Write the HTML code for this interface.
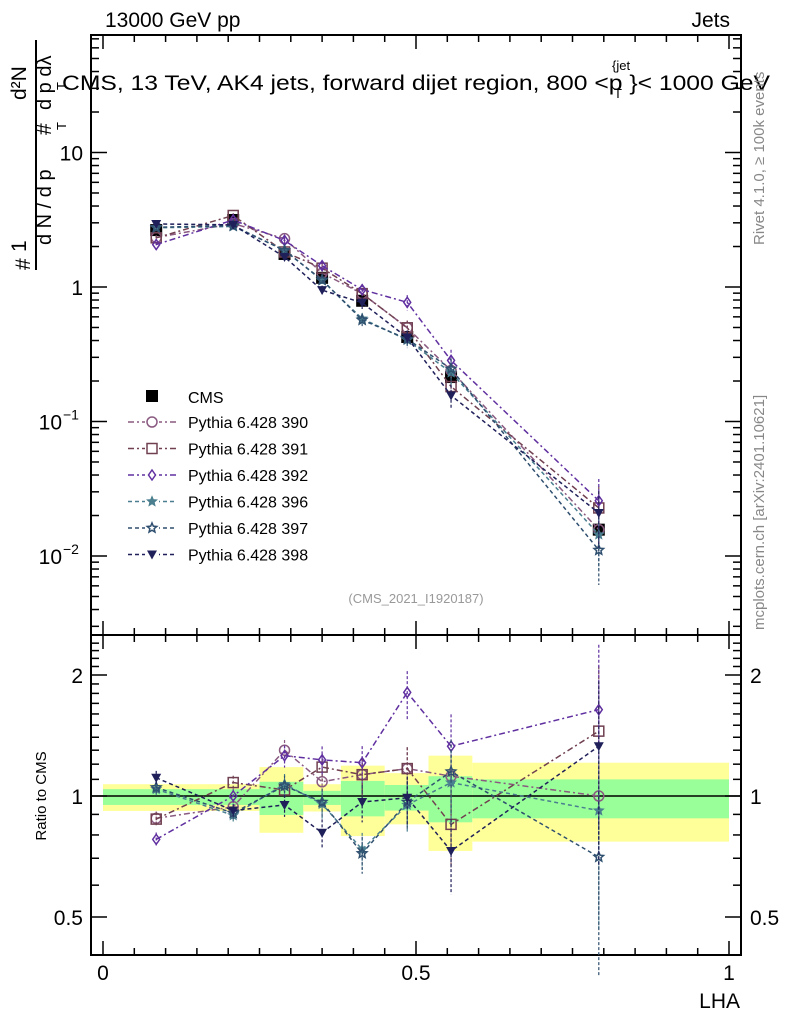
<!DOCTYPE html>
<html><head><meta charset="utf-8"><style>
body{margin:0;background:#fff;}
svg{display:block;font-family:"Liberation Sans",sans-serif;}
</style></head><body>
<svg id="c" width="786" height="1024" viewBox="0 0 786 1024" xmlns="http://www.w3.org/2000/svg">
<rect width="786" height="1024" fill="#fff"/>
<g id="bands"></g>
<g id="frames" fill="none" stroke="#000" stroke-width="2">
<rect x="91" y="35" width="650" height="600"/>
<rect x="91" y="635" width="650" height="320"/>
</g>
<g id="ticks" stroke="#000" stroke-width="1.5"></g>
<g id="series"></g>
<text x="105" y="27" font-size="21">13000 GeV pp</text>
<text x="730" y="27" font-size="21" text-anchor="end">Jets</text>
<text x="62" y="90" font-size="21" textLength="708" lengthAdjust="spacingAndGlyphs">CMS, 13 TeV, AK4 jets, forward dijet region, 800 &lt;p  }&lt; 1000 GeV</text>
<text x="612" y="70" font-size="13">{jet</text>
<text x="614" y="98" font-size="13">T</text>
<text x="416" y="603" font-size="13" fill="#999" text-anchor="middle">(CMS_2021_I1920187)</text>
<text transform="translate(764,245) rotate(-90)" font-size="15" fill="#888">Rivet 4.1.0, ≥ 100k events</text>
<text transform="translate(764,630) rotate(-90)" font-size="15" fill="#888">mcplots.cern.ch [arXiv:2401.10621]</text>
<g font-size="21">
<text transform="translate(30,270) rotate(-90)">#</text>
<text transform="translate(26,252) rotate(-90)" textLength="60">1</text>
<line x1="36" y1="270" x2="36" y2="40" stroke="#000" stroke-width="2"/>
<text transform="translate(51,245) rotate(-90)" font-size="20">d N / d p</text>
<text transform="translate(51,135) rotate(-90)">#</text>
<text transform="translate(26,100) rotate(-90)">d²N</text>
<text transform="translate(51,110) rotate(-90)" font-size="20">d p    dλ</text>
<text transform="translate(66,130) rotate(-90)" font-size="13">T</text>
<text transform="translate(66,90) rotate(-90)" font-size="13">T</text>
</g>
<text transform="translate(46,796) rotate(-90)" font-size="15" text-anchor="middle">Ratio to CMS</text>
<text x="740" y="1008" font-size="21" text-anchor="end">LHA</text>
<g id="legend"></g>
</svg>
<script>
const xPoints=[0.085,0.208,0.29,0.35,0.414,0.486,0.556,0.792];
const cmsValues=[2.65,3.15,1.76,1.17,0.79,0.425,0.214,0.0157];
const bandEdges=[0,0.25,0.32,0.38,0.45,0.52,0.59,1];
const yellowHi=[1.07,1.18,1.07,1.19,1.14,1.26,1.21];
const yellowLo=[0.918,0.81,0.915,0.795,0.85,0.73,0.77];
const greenHi=[1.04,1.085,1.03,1.09,1.065,1.12,1.10];
const greenLo=[0.95,0.897,0.95,0.89,0.92,0.86,0.88];
const relErr=[0.04,0.04,0.06,0.08,0.1,0.13,0.2,0.45];
const names=["Pythia 6.428 390","Pythia 6.428 391","Pythia 6.428 392","Pythia 6.428 396","Pythia 6.428 397","Pythia 6.428 398"];
const r390=[0.88,0.94,1.30,1.085,1.13,1.17,1.12,1.0];
const r391=[0.876,1.08,1.035,1.18,1.13,1.17,0.85,1.45];
const r392=[0.78,1.0,1.26,1.23,1.21,1.81,1.33,1.64];
const r396=[1.04,0.895,1.07,0.955,0.736,0.95,1.08,0.92];
const r397=[1.05,0.907,1.06,0.966,0.72,0.966,1.15,0.705];
const r398=[1.11,0.92,0.95,0.81,0.966,0.99,0.73,1.33];
const ratios=[r390,r391,r392,r396,r397,r398];
const colors=["#8a5a80","#704050","#6030a0","#4a7f8f","#2f4f6f","#1f1f5a"];
const markers=["circle","square","diamond","star","staro","tri"];
const dashes=["6,3,2,3","6,3,2,3","6,3,2,3","4,3","4,3","4,3"];

const NS="http://www.w3.org/2000/svg";
const X=v=>103+626*v;
const Y=v=>287-134.5*Math.log10(v);
const R=v=>796-121*Math.log2(v);
function mk(tag,attrs,parent){const e=document.createElementNS(NS,tag);for(const k in attrs)e.setAttribute(k,attrs[k]);parent.appendChild(e);return e;}
const svg=document.getElementById('c');
const bands=document.getElementById('bands');
for(let i=0;i<7;i++){
  const x0=X(bandEdges[i]),x1=X(bandEdges[i+1]);
  const y=mk('rect',{x:x0,y:R(yellowHi[i]),width:x1-x0,height:R(yellowLo[i])-R(yellowHi[i]),fill:"#ffff99"},bands);
  
  
  const g=mk('rect',{x:x0,y:R(greenHi[i]),width:x1-x0,height:R(greenLo[i])-R(greenHi[i]),fill:"#99ff99"},bands);
  
  
}
const ticks=document.getElementById('ticks');
mk('line',{x1:91,y1:796,x2:741,y2:796,'stroke-width':1.5},ticks);
// x ticks
for(let i=0;i<=20;i++){const v=i*0.05,x=X(v),L=(i%10==0)?14:7;
  [[635,635-L],[35,35+L],[955,955-L],[635,635+L]].forEach(p=>mk('line',{x1:x,y1:p[0],x2:x,y2:p[1]},ticks));}
[[0,"0"],[0.5,"0.5"],[1,"1"]].forEach(t=>{const e=mk('text',{x:X(t[0]),y:980,'font-size':21,'text-anchor':'middle',stroke:'none'},svg);e.textContent=t[1];
  
  });
// main y ticks
for(let d=-3;d<=1;d++){for(let m=1;m<10;m++){const v=m*Math.pow(10,d),y=Y(v);if(y<35||y>635)continue;const L=m==1?16:8;
  mk('line',{x1:91,y1:y,x2:91+L,y2:y},ticks);mk('line',{x1:741,y1:y,x2:741-L,y2:y},ticks);}}
[[10,"10"],[1,"1"]].forEach(t=>{const e=mk('text',{x:83,y:Y(t[0])+8,'font-size':21,'text-anchor':'end'},svg);e.textContent=t[1];
  
  });
[[0.1,"−1"],[0.01,"−2"]].forEach(t=>{const e=mk('text',{x:62,y:Y(t[0])+8,'font-size':21,'text-anchor':'end'},svg);e.textContent="10";
  
  
  const s=mk('text',{x:63,y:Y(t[0])-2,'font-size':14},svg);s.textContent=t[1];});
// ratio ticks
for(let v=0.4;v<=2.5;v+=0.1){const y=R(v);if(y<635||y>955)continue;const big=[0.5,1,2].some(b=>Math.abs(b-v)<1e-6);const L=big?16:8;
  mk('line',{x1:91,y1:y,x2:91+L,y2:y},ticks);mk('line',{x1:741,y1:y,x2:741-L,y2:y},ticks);}
[[2,"2"],[1,"1"],[0.5,"0.5"]].forEach(t=>{[[83,'end'],[750,'start']].forEach(p=>{const e=mk('text',{x:p[0],y:R(t[0])+8,'font-size':21,'text-anchor':p[1]},svg);e.textContent=t[1];
  
  });});

function marker(g,type,x,y,c,s){
  if(type=="circle")mk('circle',{cx:x,cy:y,r:s,fill:'none',stroke:c,'stroke-width':1.5},g);
  else if(type=="square")mk('rect',{x:x-s,y:y-s,width:2*s,height:2*s,fill:'none',stroke:c,'stroke-width':1.5},g);
  else if(type=="diamond")mk('path',{d:`M${x},${y-s} L${x+s*0.7},${y} L${x},${y+s} L${x-s*0.7},${y}Z`,fill:'none',stroke:c,'stroke-width':1.5},g);
  else if(type=="tri")mk('path',{d:`M${x-s},${y-s*0.8} L${x+s},${y-s*0.8} L${x},${y+s}Z`,fill:c},g);
  else if(type=="fill")mk('rect',{x:x-s,y:y-s,width:2*s,height:2*s,fill:c},g);
  else{let p="";for(let k=0;k<10;k++){const a=-Math.PI/2+k*Math.PI/5,r=k%2?s*0.45:s;p+=(k?"L":"M")+(x+r*Math.cos(a))+","+(y+r*Math.sin(a));}
    mk('path',{d:p+"Z",fill:type=="star"?c:'none',stroke:c,'stroke-width':type=="star"?1:1.5},g);}
}
const ser=document.getElementById('series');
// CMS data
const cg=mk('g',{},ser);


xPoints.forEach((x,i)=>{const v=cmsValues[i];mk('line',{x1:X(x),x2:X(x),y1:Y(v*1.05),y2:Y(v/1.05),stroke:'#000'},cg);marker(cg,'fill',X(x),Y(v),'#000',6);});
ratios.forEach((r,s)=>{
  const g=mk('g',{},ser);
  
  
  const c=colors[s];
  const mp=xPoints.map((x,i)=>X(x)+","+Y(cmsValues[i]*r[i])).join(" ");
  const rp=xPoints.map((x,i)=>X(x)+","+R(r[i])).join(" ");
  mk('polyline',{points:mp,fill:'none',stroke:c,'stroke-width':1.5,'stroke-dasharray':dashes[s]},g);
  mk('polyline',{points:rp,fill:'none',stroke:c,'stroke-width':1.5,'stroke-dasharray':dashes[s]},g);
  xPoints.forEach((x,i)=>{const v=cmsValues[i]*r[i],e=relErr[i];
    mk('line',{x1:X(x),x2:X(x),y1:Y(v*(1+e)),y2:Y(v*Math.max(0.1,1-e)),stroke:c,'stroke-width':1.2,'stroke-dasharray':'3,2'},g);
    mk('line',{x1:X(x),x2:X(x),y1:R(r[i]*(1+e)),y2:R(r[i]*Math.max(0.3,1-e*1.1)),stroke:c,'stroke-width':1.2,'stroke-dasharray':'3,2'},g);
    marker(g,markers[s],X(x),Y(v),c,5);
    marker(g,markers[s],X(x),R(r[i]),c,5);});
});
// legend
const lg=document.getElementById('legend');
const e0=mk('g',{},lg);


marker(e0,'fill',152,396,'#000',6);
const t0=mk('text',{x:188,y:403,'font-size':16},e0);t0.textContent="CMS";
names.forEach((n,s)=>{const y=422+s*26.5;
  const g=mk('g',{},lg);
  
  
  mk('line',{x1:128,x2:176,y1:y,y2:y,stroke:colors[s],'stroke-width':1.5,'stroke-dasharray':dashes[s]},g);
  mk('rect',{x:145,y:y-7,width:14,height:14,fill:'#fff'},g);
  marker(g,markers[s],152,y,colors[s],5);
  const t=mk('text',{x:188,y:y+6,'font-size':16},g);t.textContent=n;});
</script>
</body></html>
